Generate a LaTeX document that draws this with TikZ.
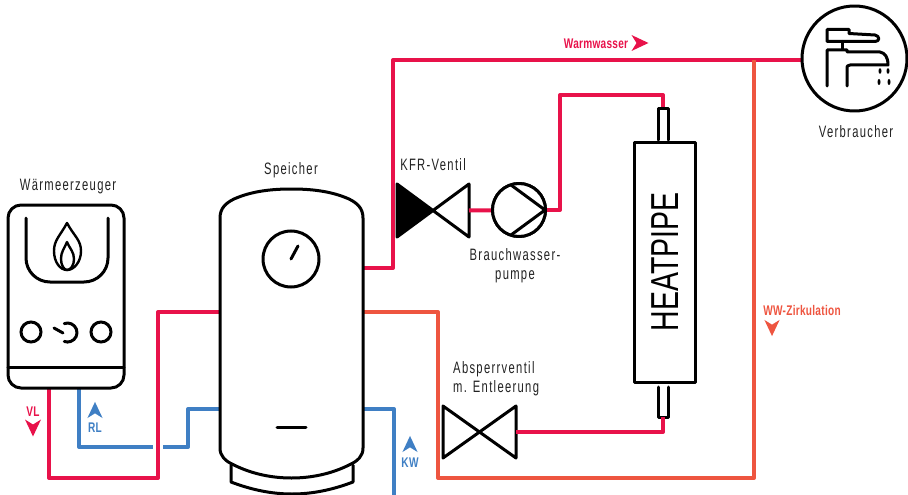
\documentclass[tikz,border=0pt]{standalone}
\usepackage{fontspec}
\setmainfont[FakeStretch=0.68,LetterSpace=8]{Liberation Sans}
\newfontfamily\flussfont[FakeStretch=0.72,LetterSpace=2]{Liberation Sans}
\newfontfamily\widefont[FakeStretch=0.73]{Liberation Sans}
\definecolor{warmrot}{HTML}{E8124A}
\definecolor{kaltblau}{HTML}{3F7FC4}
\definecolor{zirkorange}{HTML}{EE5540}
\definecolor{schrift}{HTML}{222222}
\tikzset{
  flowtip/.pic={\fill[pic actions] (0,8.5)--(-8,-8.5)--(0,-3.5)--(8,-8.5)--cycle;}
}

\begin{document}
\begin{tikzpicture}[x=1pt,y=-1pt]
\tikzstyle{rohr}=[line width=4pt,line join=round]
\tikzstyle{rohrrot}=[rohr,warmrot]
\tikzstyle{rohrblau}=[rohr,kaltblau]
\tikzstyle{rohrorange}=[rohr,zirkorange]
\tikzstyle{bauteil}=[draw,line width=3pt,line join=round,line cap=round,fill=white,inner sep=0,outer sep=0]
\tikzstyle{kontur}=[black,line width=3pt,line join=round,line cap=round]
\tikzstyle{duenn}=[black,line width=2.4pt,line join=round,line cap=round]
\tikzstyle{titel}=[schrift,font=\fontsize{16.5}{19}\selectfont,inner sep=0]
\tikzstyle{fluss}=[font=\flussfont\fontsize{14}{15}\selectfont\bfseries,inner sep=0]

\useasboundingbox (0,0) rectangle (908,495);

% Rohre
\coordinate (vlstart) at (49,388);
\coordinate (vlunten) at (49,478);
\coordinate (vlrechts) at (158,478);
\coordinate (vloben) at (158,312);
\coordinate (vlende) at (222,312);
\coordinate (rlstart) at (79,388);
\coordinate (rlunten) at (79,447);
\coordinate (rlluecke) at (153,447);
\coordinate (rlweiter) at (163,447);
\coordinate (rlknick) at (188,447);
\coordinate (rloben) at (188,409);
\coordinate (rlende) at (222,409);
\coordinate (wwstart) at (361,268);
\coordinate (wwknick) at (393,268);
\coordinate (wwoben) at (393,60);
\coordinate (wwende) at (805,60);
\coordinate (zkstart) at (361,312);
\coordinate (zkknick) at (438,312);
\coordinate (zkunten) at (438,478);
\coordinate (zkrechts) at (754,478);
\coordinate (zkende) at (754,60);
\coordinate (kwstart) at (361,409);
\coordinate (kwknick) at (394,409);
\coordinate (kwende) at (394,497);
\coordinate (hpknick) at (560,210);
\coordinate (hpoben) at (560,95);
\coordinate (hprechts) at (663,95);
\coordinate (hpunten) at (663,432);

\draw[rohrrot] (vlstart)--(vlunten)--(vlrechts)--(vloben)--(vlende);
\draw[rohrblau] (rlstart)--(rlunten)--(rlluecke);
\draw[rohrblau] (rlweiter)--(rlknick)--(rloben)--(rlende);
\draw[rohrrot] (wwstart)--(wwknick)--(wwoben)--(wwende);
\draw[rohrorange] (zkstart)--(zkknick)--(zkunten)--(zkrechts)--(zkende);
\draw[rohrblau] (kwstart)--(kwknick)--(kwende);

% Waermeerzeuger
\node[bauteil,rounded corners=13pt,minimum width=116pt,minimum height=183pt] (kessel) at (66,296.5) {};
\draw[kontur] (kessel.west |- 0,367)--(kessel.east |- 0,367);
\draw[kontur] (26,218)--(26,258) arc[start angle=180,end angle=90,radius=24]--(84,282) arc[start angle=90,end angle=0,radius=24]--(108,218);
\draw[duenn] (67,223) .. controls (60,236) and (54,240) .. (54,251) .. controls (54,262) and (60,270) .. (67,270) .. controls (74,270) and (81,262) .. (81,251) .. controls (81,240) and (74,236) .. (67,223)--cycle;
\draw[duenn] (67,242) .. controls (64,249) and (61,252) .. (61,259) .. controls (61,265) and (64,270) .. (67,270) .. controls (71,270) and (74,265) .. (74,259) .. controls (74,252) and (70,249) .. (67,242)--cycle;
\node[draw,line width=3pt,circle,minimum size=20pt,inner sep=0,outer sep=0] (knopfa) at (31,332) {};
\node[draw,line width=3pt,circle,minimum size=20pt,inner sep=0,outer sep=0] (knopfb) at (101,332) {};
\draw[kontur] (64.25,323.6) arc[start angle=-110,end angle=110,radius=9.5];
\draw[kontur] (54,328)--(63,333);
\node[titel] (kesseltext) at (68,187) {Wärmeerzeuger};

% Speicher
\draw[kontur,fill=white] (231,465)--(231,482) .. controls (252,490) and (272,494) .. (292,494) .. controls (312,494) and (332,490) .. (353,482)--(353,465);
\draw[kontur,fill=white] (220,218) .. controls (220,208) and (226,203) .. (234,199) .. controls (252,191) and (272,189) .. (291.5,189) .. controls (311,189) and (331,191) .. (349,199) .. controls (357,203) and (363,208) .. (363,218)--(363,448) .. controls (363,456) and (358,461) .. (349,465) .. controls (331,474) and (311,478) .. (291.5,478) .. controls (272,478) and (252,474) .. (234,465) .. controls (225,461) and (220,456) .. (220,448)--cycle;
\node[draw,line width=3pt,circle,minimum size=56pt,inner sep=0,outer sep=0] (anzeige) at (291,259) {};
\draw[kontur] (anzeige.center)--(298,246);
\draw[kontur] (277,427)--(306,427);
\node[titel] (speichertext) at (291,170) {Speicher};

% Ventile und Pumpe
\coordinate (kfrmitte) at (433,210.5);
\coordinate (kfrrechts) at (469,210.5);
\coordinate (pumperechts) at (545,210);
\coordinate (asvmitte) at (479.5,432);
\coordinate (asvrechts) at (516,432);
\draw[kontur,fill=black] (397,184)--(397,237)--(kfrmitte)--cycle;
\draw[kontur] (469,184)--(469,237)--(kfrmitte)--cycle;
\draw[kontur] (443,406)--(443,458)--(asvmitte)--cycle;
\draw[kontur] (516,406)--(516,458)--(asvmitte)--cycle;
\node[bauteil,circle,minimum size=53pt] (pumpe) at (519,210) {};
\draw[rohrrot] (kfrrechts)--(pumpe);
\draw[rohrrot] (pumperechts)--(hpknick)--(hpoben)--(hprechts)--(663,108);
\node[bauteil,circle,minimum size=53pt] (pumpe) at (519,210) {};
\draw[kontur] (511,185)--(pumperechts)--(511,235);
\node[titel] (kfrtext) at (433,165) {KFR-Ventil};
\node[titel,align=center] (pumpetext) at (515,265.5) {Brauchwasser-\\pumpe};
\node[titel,align=left,anchor=north west] (asvtext) at (453,361) {Absperrventil\\m. Entleerung};

% Heatpipe
\node[bauteil,minimum width=61pt,minimum height=240pt] (heatpipe) at (664.5,262) {};
\draw[kontur] (658,140)--(658,108)--(668,108)--(668,140);
\draw[kontur] (658,387)--(658,417)--(668,417)--(668,387);
\draw[rohrrot] (663,417)--(hpunten)--(asvrechts);
\node[black,rotate=90,inner sep=0,font=\widefont\fontsize{39}{39}\selectfont] (hptext) at (665.5,262) {HEATPIPE};

% Verbraucher
\node[bauteil,circle,minimum size=105pt] (hahn) at (854.5,58.5) {};
\draw[kontur] (827,29.5)--(849,29.5)--(849,33.5)--(875,35) .. controls (880,36) and (880,41.5) .. (875,41.5)--(827,41.5)--cycle;
\draw[kontur] (842,41.5)--(842,49.5);
\draw[kontur] (827,86)--(827,50)--(847,50)--(847,52)--(880,52) .. controls (885,53) and (888,57) .. (888,65)--(850,65) .. controls (847,65) and (847,66) .. (847,70)--(847,86);
\fill[black] (880,71) ellipse (1.5 and 2.8);
\fill[black] (888,71) ellipse (1.5 and 2.8);
\fill[black] (879,82) ellipse (1.5 and 3);
\fill[black] (889,82) ellipse (1.5 and 3);
\node[titel] (hahntext) at (856,132) {Verbraucher};

% Beschriftung Fluss
\node[fluss,warmrot] (warmtext) at (596,44) {Warmwasser};
\pic[fill=warmrot,rotate=90] at (640,43) {flowtip};
\node[fluss,zirkorange] (zirktext) at (802,310) {WW-Zirkulation};
\pic[fill=zirkorange,scale=0.95] at (772,328) {flowtip};
\node[fluss,warmrot] (vltext) at (33,412) {VL};
\pic[fill=warmrot] at (33,428) {flowtip};
\node[fluss,kaltblau] (rltext) at (95,428) {RL};
\pic[fill=kaltblau,rotate=180,scale=0.95] at (95,410) {flowtip};
\node[fluss,kaltblau] (kwtext) at (410,463) {KW};
\pic[fill=kaltblau,rotate=180,scale=0.95] at (410,444) {flowtip};

\end{tikzpicture}
\end{document}
